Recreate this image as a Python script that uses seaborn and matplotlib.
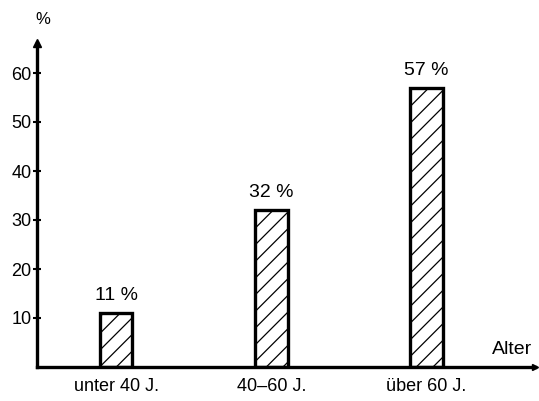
import numpy as np
import matplotlib
matplotlib.use("Agg")
import matplotlib.pyplot as plt
import seaborn as sns

# Daten
kategorien = ["unter 40 J.", "40\u201360 J.", "über 60 J."]
anteile = [11, 32, 57]
y_ticks = [10, 20, 30, 40, 50, 60]

sns.set_style("white")
plt.rcParams["font.family"] = ["Liberation Sans", "DejaVu Sans"]
plt.rcParams["hatch.linewidth"] = 0.9
plt.rcParams["text.color"] = "black"
plt.rcParams["xtick.color"] = "black"
plt.rcParams["ytick.color"] = "black"

W, H = 539, 401
fig = plt.figure(figsize=(W / 100, H / 100), dpi=100)
# Achse: y-Achse bei x=37px, Grundlinie bei y=367px, oben bis y=43px, rechts bis x=535px
ax = fig.add_axes([37 / W, (H - 367) / H, (535 - 37) / W, (367 - 43) / H])

sns.barplot(x=kategorien, y=anteile, ax=ax, width=0.21, color="white",
            edgecolor="black", linewidth=2.4, hatch="//", saturation=1)

ax.set_xlim(-0.51, 2.70)
ax.set_ylim(0, (367 - 43) / 4.9)

for s in ["top", "right"]:
    ax.spines[s].set_visible(False)
for s in ["left", "bottom"]:
    ax.spines[s].set_linewidth(2.4)
    ax.spines[s].set_color("black")

ax.set_yticks(y_ticks)
ax.set_yticklabels([str(v) for v in y_ticks], fontsize=13)
ax.tick_params(axis="y", left=True, direction="inout", length=6, width=1.5, pad=1)
ax.tick_params(axis="x", bottom=False, length=0, pad=8, labelsize=13)

# Pfeilspitzen
ax.plot([0], [1], marker="^", color="black", markersize=6, transform=ax.transAxes, clip_on=False)
ax.plot([1], [0], marker=">", color="black", markersize=5, transform=ax.transAxes, clip_on=False)

# Werte über den Balken
for i, v in enumerate(anteile):
    ax.text(i, v + 1.8, f"{v} %", ha="center", va="bottom", fontsize=14)

fig.text(43 / W, 1 - 20 / H, "%", ha="center", va="center", fontsize=12)
fig.text(512 / W, 1 - 350 / H, "Alter", ha="center", va="center", fontsize=14)

ax.set_xlabel("")
ax.set_ylabel("")
fig.savefig("out.png", dpi=100)
